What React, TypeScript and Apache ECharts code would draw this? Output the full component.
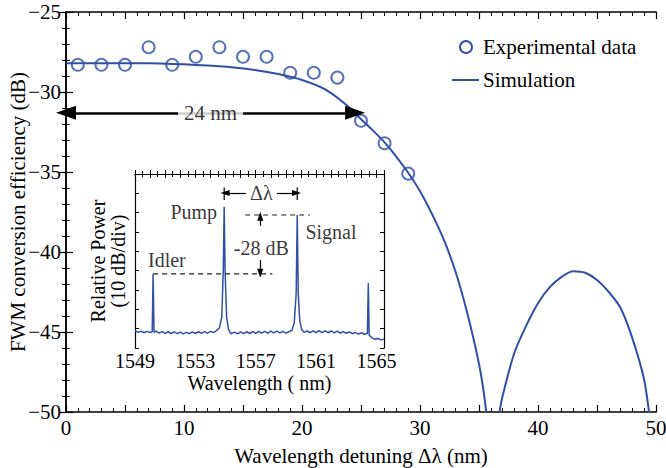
import React, { useEffect, useRef } from 'react';
import * as echarts from 'echarts';

// ---------- Main chart data ----------
const expX = [1, 3, 5, 7, 9, 11, 13, 15, 17, 19, 21, 23, 25, 27, 29];
const expY = [-28.3, -28.3, -28.3, -27.2, -28.3, -27.8, -27.2, -27.8, -27.8, -28.8, -28.8, -29.1, -31.8, -33.2, -35.1];

const simX = [0, 2, 4, 6, 8, 10, 12, 14, 16, 18, 20, 22, 24, 25, 26, 27, 28, 29, 30, 31, 32, 33, 34, 35, 35.5, 35.8, 36.1, 36.4, 36.7, 37, 38, 39, 40, 41, 42, 43, 44, 45, 46, 47, 48, 49, 49.5];
const simY = [-28.2, -28.2, -28.2, -28.2, -28.22, -28.27, -28.35, -28.45, -28.62, -28.88, -29.25, -29.85, -30.95, -31.7, -32.4, -33.15, -34.05, -35.05, -36.2, -37.6, -39.2, -41.2, -43.8, -47.0, -49.3, -51.5, -58, -52, -50.2, -49.0, -46.3, -44.6, -43.2, -42.2, -41.55, -41.2, -41.3, -41.75, -42.5, -43.5, -45.4, -48.0, -50.5];

const xLabelsMain = [0, 10, 20, 30, 40, 50];
const bandwidth = [0, 24.5, -31.3]; // x start, x end, level
const bandwidthText = '24 nm';

// ---------- Inset data (wavelength nm, relative power dB) ----------
const spectrum: [number, number][] = [
  [1549.0, -81.0], [1549.2, -81.9], [1549.4, -81.3], [1549.6, -82.1], [1549.8, -81.4], [1550.0, -82.0],
  [1550.14, -81.6], [1550.2, -51.7], [1550.26, -81.9],
  [1550.4, -81.3], [1550.6, -82.3], [1550.8, -81.5], [1551.0, -82.4], [1551.2, -81.6], [1551.4, -82.5],
  [1551.6, -81.7], [1551.8, -82.6], [1552.0, -81.8], [1552.2, -82.7], [1552.4, -81.9], [1552.6, -82.6],
  [1552.8, -81.7], [1553.0, -82.5], [1553.2, -81.6], [1553.4, -82.4], [1553.6, -81.5], [1553.8, -82.3],
  [1554.0, -81.4], [1554.2, -82.0], [1554.4, -81.0], [1554.6, -79.5], [1554.75, -74], [1554.85, -50],
  [1554.91, -17], [1554.97, -50], [1555.07, -74], [1555.2, -80.5], [1555.35, -82.6],
  [1555.6, -81.8], [1555.8, -82.7], [1556.0, -81.7], [1556.2, -82.6], [1556.4, -81.6], [1556.6, -82.5],
  [1556.8, -81.5], [1557.0, -82.4], [1557.2, -81.4], [1557.4, -82.3], [1557.6, -81.4], [1557.8, -82.3],
  [1558.0, -81.3], [1558.2, -82.2], [1558.4, -81.3], [1558.6, -82.2], [1558.8, -81.4], [1559.0, -82.3],
  [1559.2, -81.6], [1559.4, -80.9], [1559.55, -77], [1559.68, -62], [1559.75, -21.2], [1559.82, -62],
  [1559.92, -76], [1560.05, -80.6], [1560.2, -81.9],
  [1560.4, -81.2], [1560.6, -82.1], [1560.8, -81.1], [1561.0, -82.0], [1561.2, -81.0], [1561.4, -82.0],
  [1561.6, -81.1], [1561.8, -82.1], [1562.0, -81.2], [1562.2, -82.2], [1562.4, -81.3], [1562.6, -82.3],
  [1562.8, -81.5], [1563.0, -82.4], [1563.2, -81.7], [1563.4, -82.6], [1563.6, -81.9], [1563.8, -82.8],
  [1564.0, -82.1], [1564.2, -82.9], [1564.4, -82.5], [1564.46, -56.4], [1564.52, -83.4], [1564.7, -84.6],
  [1564.9, -85.5], [1565.1, -85.1], [1565.3, -85.8], [1565.5, -85.4],
];

const insetXLabels = [1549, 1553, 1557, 1561, 1565];
const refSignal: [number, number][] = [[1556.3, -21.2], [1560.6, -21.2]];
const refIdler: [number, number][] = [[1550.2, -51.7], [1558.1, -51.7]];
const bracketBars: any[] = [[1554.91, -7.0], [1554.91, -13.5], ['-', '-'], [1559.75, -7.0], [1559.75, -13.5]];
const insetArrows: [number, number][][] = [
  [[1557.3, -26.8], [1557.3, -21.8]],
  [[1557.3, -44.5], [1557.3, -51.3]],
  [[1556.35, -9.8], [1554.97, -9.8]],
  [[1558.4, -9.8], [1559.7, -9.8]],
];
const insetTexts = [
  { name: 'Pump', value: [1554.44, -19.7], align: 'right' },
  { name: 'Signal', value: [1560.29, -30], align: 'left' },
  { name: 'Idler', value: [1549.86, -44.5], align: 'left' },
  { name: '-28 dB', value: [1557.37, -38.3], align: 'center' },
  { name: 'Δλ', value: [1557.37, -9.8], align: 'center' },
];

const FONT = '"Liberation Serif", "Times New Roman", serif';
const BLUE = '#3050a8';

export default function App() {
  const ref = useRef<HTMLDivElement>(null);
  useEffect(() => {
    if (!ref.current) return;
    const chart = echarts.init(ref.current, null, { renderer: 'svg' });
    const axisLine = { show: true, lineStyle: { color: '#000', width: 1.5 } };
    const mainTick = { show: true, inside: true, length: 7, lineStyle: { color: '#000', width: 1.2 } };
    const mainMinor = { show: true, splitNumber: 5, length: 4, lineStyle: { color: '#000', width: 1 } };
    const insetTick = { show: true, inside: true, length: 4, lineStyle: { color: '#000', width: 1 } };
    const insetMinor = { show: true, splitNumber: 2, length: 3, lineStyle: { color: '#000', width: 1 } };
    const fmtMinus = (v: number) => (v < 0 ? '\u2212' + Math.abs(v) : String(v));

    const option: any = {
      animation: false,
      backgroundColor: '#fff',
      grid: [
        { left: 66, top: 12, width: 590, height: 400, containLabel: false, outerBoundsMode: 'none' },
        { left: 135, top: 174, width: 249, height: 174, containLabel: false, outerBoundsMode: 'none', show: true, backgroundColor: '#fff', borderWidth: 0 },
      ],
      xAxis: [
        {
          type: 'value', gridIndex: 0, min: 0, max: 50, interval: 5, position: 'bottom',
          axisLine, axisTick: mainTick, minorTick: mainMinor, splitLine: { show: false },
          axisLabel: {
            formatter: (v: number) => (xLabelsMain.includes(v) ? String(v) : ''),
            fontSize: 21, color: '#000', margin: 5, fontFamily: FONT,
          },
          name: 'Wavelength detuning Δλ (nm)', nameLocation: 'middle', nameGap: 33, nameMoveOverlap: false,
          nameTextStyle: { fontSize: 21, color: '#000', fontFamily: FONT },
        },
        {
          type: 'value', gridIndex: 0, min: 0, max: 50, interval: 5, position: 'top',
          axisLine, axisTick: mainTick, minorTick: mainMinor, splitLine: { show: false },
          axisLabel: { show: false },
        },
        {
          type: 'value', gridIndex: 1, min: 1549, max: 1565.5, interval: 1, position: 'bottom',
          axisLine: { show: true, lineStyle: { color: '#000', width: 1.2 } }, axisTick: insetTick, minorTick: insetMinor,
          splitLine: { show: false },
          axisLabel: {
            formatter: (v: number) => (insetXLabels.includes(v) ? String(v) : ''),
            fontSize: 20, color: '#000', margin: 3, fontFamily: FONT, hideOverlap: false,
          },
          name: 'Wavelength ( nm)', nameLocation: 'middle', nameGap: 25, nameMoveOverlap: false,
          nameTextStyle: { fontSize: 20, color: '#000', fontFamily: FONT },
        },
        {
          type: 'value', gridIndex: 1, min: 1549, max: 1565.5, interval: 1, position: 'top',
          axisLine: { show: true, lineStyle: { color: '#000', width: 1.2 } }, axisTick: insetTick, minorTick: insetMinor,
          splitLine: { show: false }, axisLabel: { show: false },
        },
      ],
      yAxis: [
        {
          type: 'value', gridIndex: 0, min: -50, max: -25, interval: 5, position: 'left',
          axisLine, axisTick: mainTick, minorTick: mainMinor, splitLine: { show: false },
          axisLabel: { formatter: fmtMinus, fontSize: 21, color: '#000', margin: 5, fontFamily: FONT },
          name: 'FWM conversion efficiency (dB)', nameLocation: 'middle', nameGap: 38, nameMoveOverlap: false,
          nameTextStyle: { fontSize: 21, color: '#000', fontFamily: FONT },
        },
        {
          type: 'value', gridIndex: 0, min: -50, max: -25, interval: 5, position: 'right',
          axisLine, axisTick: mainTick, minorTick: mainMinor, splitLine: { show: false },
          axisLabel: { show: false },
        },
        {
          type: 'value', gridIndex: 1, min: -90, max: 0, interval: 10, position: 'left',
          axisLine: { show: true, lineStyle: { color: '#000', width: 1.2 } }, axisTick: insetTick,
          splitLine: { show: false }, axisLabel: { show: false },
          name: 'Relative Power\n(10 dB/div)', nameLocation: 'middle', nameGap: 7, nameMoveOverlap: false,
          nameTextStyle: { fontSize: 20, lineHeight: 20, color: '#000', fontFamily: FONT },
        },
        {
          type: 'value', gridIndex: 1, min: -90, max: 0, interval: 10, position: 'right',
          axisLine: { show: true, lineStyle: { color: '#000', width: 1.2 } }, axisTick: insetTick,
          splitLine: { show: false }, axisLabel: { show: false },
        },
      ],
      series: [
        {
          name: 'Simulation', type: 'line', xAxisIndex: 0, yAxisIndex: 0,
          data: simX.map((x, i) => [x, simY[i]]), showSymbol: false, symbol: 'none', smooth: 0.2,
          lineStyle: { color: BLUE, width: 2 }, clip: true, silent: true,
          markLine: {
            silent: true, symbol: ['triangle', 'triangle'], symbolSize: [14, 20],
            lineStyle: { color: '#000', width: 2.5, type: 'solid' },
            label: { show: false },
            emphasis: { disabled: true },
            data: [[{ coord: [bandwidth[0], bandwidth[2]] }, { coord: [bandwidth[1], bandwidth[2]] }]],
          },
        },
        {
          name: 'Experimental data', type: 'scatter', xAxisIndex: 0, yAxisIndex: 0,
          data: expX.map((x, i) => [x, expY[i]]), symbol: 'circle', symbolSize: 12,
          itemStyle: { color: '#fff', borderColor: BLUE, borderWidth: 2 }, silent: true,
        },
        {
          type: 'scatter', xAxisIndex: 0, yAxisIndex: 0, symbolSize: 1, silent: true, z: 10,
          itemStyle: { color: 'rgba(0,0,0,0)' },
          data: [{
            name: bandwidthText, value: [(bandwidth[0] + bandwidth[1]) / 2, bandwidth[2]],
            label: {
              show: true, position: 'inside', formatter: '{b}', fontSize: 21, color: '#000', fontFamily: FONT,
              backgroundColor: '#fff', padding: [0, 6], verticalAlign: 'middle',
            },
          }],
        },
        {
          name: 'spectrum', type: 'line', xAxisIndex: 2, yAxisIndex: 2, data: spectrum,
          symbol: 'none', lineStyle: { color: BLUE, width: 1.5 }, clip: true, silent: true,
          markLine: {
            silent: true, symbol: ['none', 'triangle'], symbolSize: [6, 9],
            lineStyle: { color: '#000', width: 1.2, type: 'solid' }, label: { show: false },
            emphasis: { disabled: true },
            data: insetArrows.map(([a, b]) => [{ coord: a }, { coord: b }]),
          },
        },
        {
          type: 'line', xAxisIndex: 2, yAxisIndex: 2, data: refSignal, symbol: 'none', silent: true,
          lineStyle: { color: '#222', width: 1.2, type: [5, 4] },
        },
        {
          type: 'line', xAxisIndex: 2, yAxisIndex: 2, data: refIdler, symbol: 'none', silent: true,
          lineStyle: { color: '#222', width: 1.2, type: [5, 4] },
        },
        {
          type: 'line', xAxisIndex: 2, yAxisIndex: 2, data: bracketBars, symbol: 'none', silent: true,
          connectNulls: false, lineStyle: { color: '#000', width: 1.2 },
        },
        {
          type: 'scatter', xAxisIndex: 2, yAxisIndex: 2, symbolSize: 1, silent: true,
          itemStyle: { color: 'rgba(0,0,0,0)' },
          data: insetTexts.map((t) => ({
            name: t.name, value: t.value,
            label: { show: true, position: 'inside', align: t.align, verticalAlign: 'middle', formatter: '{b}', fontSize: 20, color: '#000', fontFamily: FONT },
          })),
        },
      ],
      graphic: [
        { type: 'circle', shape: { cx: 466, cy: 47, r: 6 }, style: { fill: '#fff', stroke: BLUE, lineWidth: 2 } },
        { type: 'text', x: 483, y: 47, style: { text: 'Experimental data', fontSize: 21, fontFamily: FONT, fill: '#000', verticalAlign: 'middle', align: 'left' } },
        { type: 'line', shape: { x1: 452, y1: 80, x2: 479, y2: 80 }, style: { stroke: BLUE, lineWidth: 2 } },
        { type: 'text', x: 483, y: 80, style: { text: 'Simulation', fontSize: 21, fontFamily: FONT, fill: '#000', verticalAlign: 'middle', align: 'left' } },
      ],
    };
    chart.setOption(option);
    return () => chart.dispose();
  }, []);
  return (
    <div
      ref={ref}
      style={{ position: 'fixed', left: 0, top: 0, width: 666, height: 468, background: '#fff' }}
    />
  );
}
